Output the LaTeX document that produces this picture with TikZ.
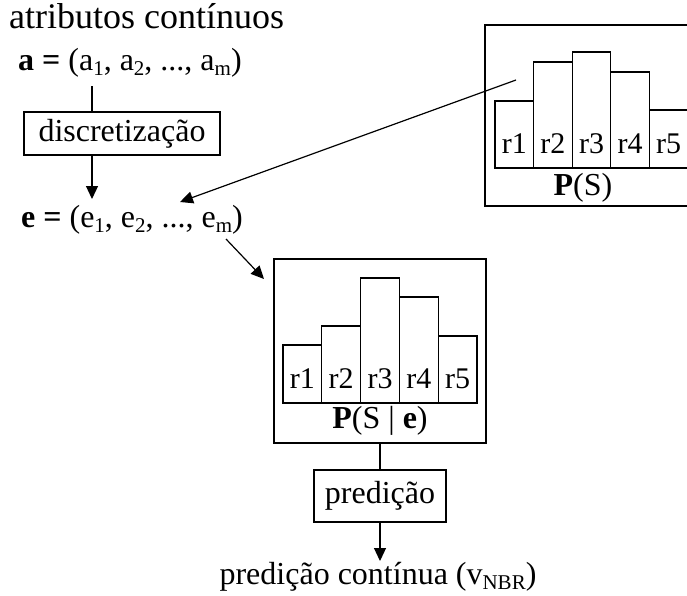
\documentclass[tikz,border=0pt]{standalone}
\usepackage{fontspec}
\setmainfont{Liberation Serif}
\usetikzlibrary{arrows.meta}
% lowered, smaller index for vector components
\newcommand\lowidx[1]{\raisebox{-5pt}{\fontsize{21}{21}\selectfont #1}}

\begin{document}
\begin{tikzpicture}[x=1pt,y=-1pt,
  font=\fontsize{32}{38}\selectfont,
  txt/.style={inner sep=0pt,anchor=base west},
  procbox/.style={draw,line width=1.2pt,inner sep=0pt},
  frame/.style={draw,line width=1.2pt},
  bar/.style={draw,line width=1.2pt},
  barlbl/.style={inner sep=0pt,anchor=base,font=\fontsize{30}{36}\selectfont},
  plbl/.style={inner sep=0pt,anchor=base},
  conn/.style={line width=1.2pt},
  arr/.style={line width=1.2pt,-{Triangle[width=12pt,length=13pt]}}]
\useasboundingbox (0,0) rectangle (687,595);

% inputs and discretisation
\node[txt,font=\fontsize{36}{42}\selectfont] (title) at (9,28) {atributos contínuos};
\node[txt] (avec) at (18,70) {\textbf{a =} (a\lowidx{1}, a\lowidx{2}, ..., a\lowidx{m})};
\node[procbox,minimum width=196pt,minimum height=43pt] (disc) at (122,133.5) {discretização};
\node[txt] (evec) at (21,227) {\textbf{e =} (e\lowidx{1}, e\lowidx{2}, ..., e\lowidx{m})};

\coordinate (xa) at (92,0);
\coordinate (atop) at (92,86);
\coordinate (etop) at (92,199);
\draw[conn] (atop) -- (xa |- disc.north);
\draw[arr] (xa |- disc.south) -- (etop);

% prior distribution P(S)
\draw[frame] (485,25) rectangle (695,206);
\foreach \i/\xl/\tp in {1/495/101, 2/533.6/62, 3/572.2/52, 4/610.8/72, 5/649.4/110}{
  \draw[bar] (\xl,168) rectangle ++(38.6,\tp-168);
  \node[barlbl] (ps\i) at (\xl+19.3,153) {r\i};
}
\node[plbl] (prior) at (583,195) {\textbf{P}(S)};

\coordinate (pstart) at (516,80);
\coordinate (pend) at (180,202);
\draw[arr] (pstart) -- (pend);

% posterior distribution P(S | e)
\draw[frame] (274,259) rectangle (486,443);
\foreach \i/\xl/\tp in {1/283/345, 2/321.8/326, 3/360.6/278, 4/399.4/297, 5/438.2/336}{
  \draw[bar] (\xl,403) rectangle ++(38.8,\tp-403);
  \node[barlbl] (pe\i) at (\xl+19.4,388) {r\i};
}
\node[plbl] (post) at (380,428) {\textbf{P}(S | \textbf{e})};

\coordinate (estart) at (226,239);
\coordinate (eend) at (264,279);
\draw[arr] (estart) -- (eend);

% prediction
\coordinate (mbot) at (380,443);
\node[procbox,minimum width=132pt,minimum height=52pt] (pred) at (380,496) {predição};
\draw[conn] (mbot) -- (pred.north);
\coordinate (out) at (380,561);
\draw[arr] (pred.south) -- (out);
\node[plbl] (result) at (378,584) {predição contínua (v\lowidx{NBR})};
\end{tikzpicture}
\end{document}
